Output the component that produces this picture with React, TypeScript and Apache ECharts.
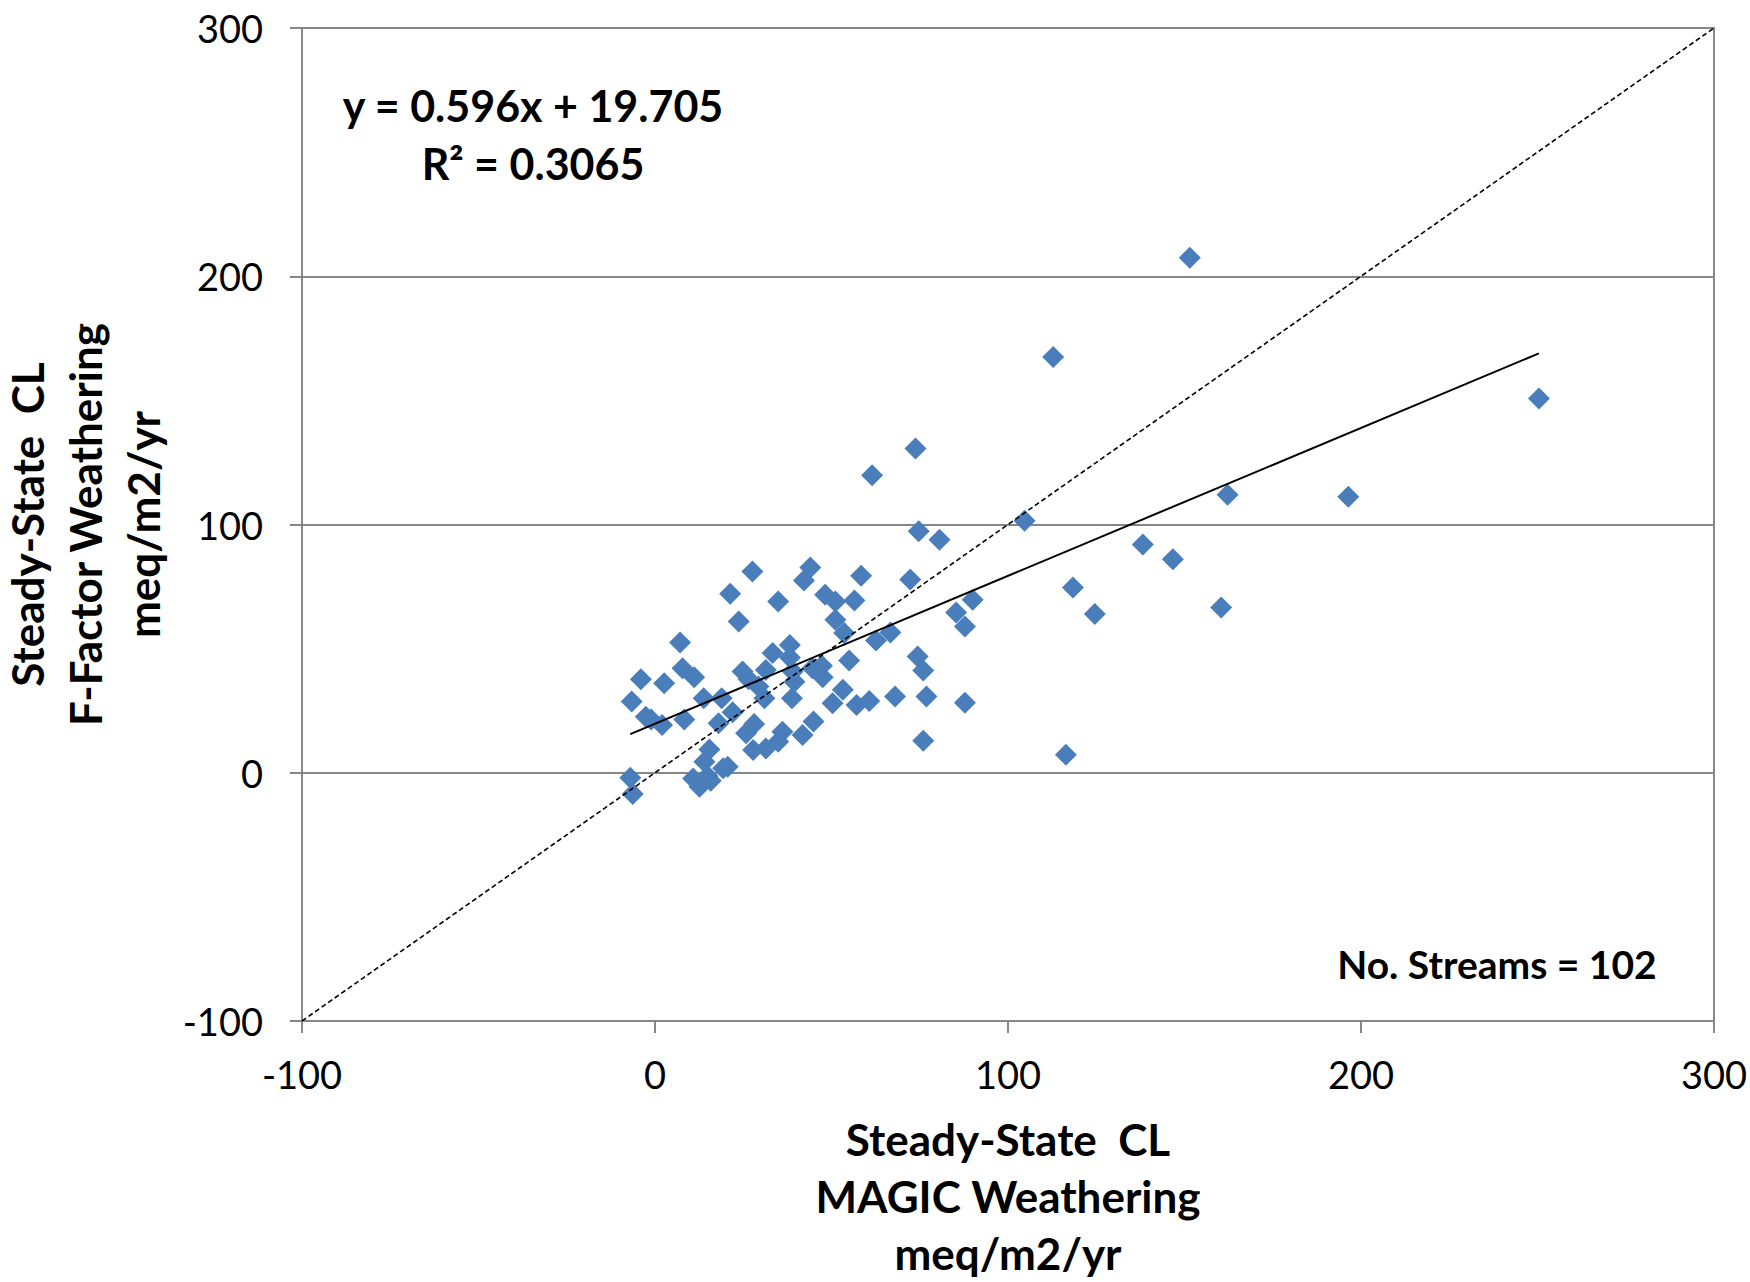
import React, { useEffect, useRef } from "react";
import * as echarts from "echarts";

// MAGIC weathering (x) vs F-Factor weathering (y), meq/m2/yr
const magicX = [
  74.7, 80.6, 27.6, 44.0, 42.2, 58.4, 72.3, 21.3, 34.9, 48.2,
  51.1, 56.5, 90.0, 85.3, 87.8, 23.7, 51.1, 53.6, 66.7, 62.6,
  7.1, 33.3, 38.2, 38.2, 74.4, 76.0, 55.0, 7.8, 11.1, -4.0,
  2.6, 24.8, 26.5, 31.4, 29.3, 31.0, 39.5, 39.0, 44.6, 47.3,
  47.5, 53.2, 38.8, 50.3, 57.1, 60.7, 68.0, 76.9, 87.8, -6.6,
  -2.6, -1.1, 2.0, 8.3, 13.8, 18.9, 22.0, 18.0, 25.8, 28.1,
  36.1, 34.9, 31.4, 27.8, 41.8, 44.9, 15.4, 14.0, 19.3, 20.6,
  10.8, 14.9, 12.6, -7.0, -6.3, 76.0, 151.5, 112.8, 73.8, 61.5,
  250.4, 162.2, 196.4, 104.7, 138.2, 146.7, 118.4, 124.6, 160.4, 116.4,
  15.8,
];
const ffactorY = [
  97.3, 93.9, 81.1, 82.7, 77.4, 79.4, 77.8, 72.1, 69.0, 71.7,
  69.0, 69.4, 69.7, 64.6, 58.9, 60.9, 61.6, 56.3, 56.5, 53.3,
  52.5, 48.2, 51.5, 46.4, 46.8, 41.2, 45.2, 42.1, 38.5, 37.7,
  36.1, 40.8, 37.7, 41.4, 34.7, 30.0, 36.7, 40.8, 42.1, 43.1,
  38.5, 33.4, 30.0, 28.0, 27.3, 28.9, 30.7, 30.7, 28.2, 28.7,
  22.6, 21.5, 19.2, 21.5, 30.0, 30.0, 24.4, 19.9, 15.9, 19.6,
  16.5, 12.5, 9.8, 9.2, 15.2, 20.6, 9.4, 4.4, 1.8, 2.4,
  -2.3, -1.3, -5.6, -2.0, -8.6, 12.9, 207.5, 167.5, 130.6, 119.8,
  150.8, 112.0, 111.2, 101.5, 91.9, 86.0, 74.6, 63.9, 66.6, 7.3,
  -3.2,
];

const axisMin = -100;
const axisMax = 300;
const axisInterval = 100;

const trendSlope = 0.596;
const trendIntercept = 19.705;
const rSquared = 0.3065;
const streamCount = 102;

const xTitleLines = ["Steady-State  CL", "MAGIC Weathering", "meq/m2/yr"];
const yTitleLines = ["Steady-State  CL", "F-Factor Weathering", "meq/m2/yr"];

export default function App() {
  const ref = useRef<HTMLDivElement | null>(null);

  useEffect(() => {
    document.body.style.margin = "0";
    if (!ref.current) return;
    const chart = echarts.init(ref.current, undefined, { renderer: "svg" });

    const points = magicX.map((x, i) => [x, ffactorY[i]]);
    const xMin = Math.min(...magicX);
    const xMax = Math.max(...magicX);
    const trend = [
      [xMin, trendSlope * xMin + trendIntercept],
      [xMax, trendSlope * xMax + trendIntercept],
    ];
    const oneToOne = [
      [axisMin, axisMin],
      [axisMax, axisMax],
    ];

    const axisColor = "#878787";
    const font = "Lato";

    chart.setOption({
      animation: false,
      backgroundColor: "#ffffff",
      grid: {
        left: 302,
        right: 36,
        top: 28,
        bottom: 261,
        containLabel: false,
        outerBoundsMode: "none",
        show: true,
        borderColor: axisColor,
        borderWidth: 2,
      },
      xAxis: {
        type: "value",
        min: axisMin,
        max: axisMax,
        interval: axisInterval,
        axisLine: { show: true, onZero: false, lineStyle: { color: axisColor, width: 2 } },
        axisTick: { show: true, inside: false, length: 12, lineStyle: { color: axisColor, width: 2 } },
        splitLine: { show: false },
        axisLabel: { color: "#000", fontFamily: font, fontSize: 38, margin: 34 },
        name: xTitleLines.join("\n"),
        nameLocation: "middle",
        nameGap: 89,
        nameTextStyle: {
          color: "#000",
          fontFamily: font,
          fontWeight: "bold",
          fontSize: 44,
          lineHeight: 57,
        },
      },
      yAxis: {
        type: "value",
        min: axisMin,
        max: axisMax,
        interval: axisInterval,
        axisLine: { show: true, onZero: false, lineStyle: { color: axisColor, width: 2 } },
        axisTick: { show: true, inside: false, length: 12, lineStyle: { color: axisColor, width: 2 } },
        splitLine: { show: true, lineStyle: { color: axisColor, width: 2 } },
        axisLabel: { color: "#000", fontFamily: font, fontSize: 38, margin: 39 },
        name: yTitleLines.join("\n"),
        nameLocation: "middle",
        nameGap: 122,
        nameTextStyle: {
          color: "#000",
          fontFamily: font,
          fontWeight: "bold",
          fontSize: 44,
          lineHeight: 58,
        },
      },
      graphic: [
        {
          type: "text",
          x: 533,
          y: 105,
          style: {
            text: `y = ${trendSlope}x + ${trendIntercept}`,
            font: `bold 43px ${font}`,
            fill: "#000",
            textAlign: "center",
            textVerticalAlign: "middle",
          },
        },
        {
          type: "text",
          x: 533,
          y: 163,
          style: {
            text: `R\u00B2 = ${rSquared}`,
            font: `bold 43px ${font}`,
            fill: "#000",
            textAlign: "center",
            textVerticalAlign: "middle",
          },
        },
        {
          type: "text",
          x: 1497,
          y: 964,
          style: {
            text: `No. Streams = ${streamCount}`,
            font: `bold 39px ${font}`,
            fill: "#000",
            textAlign: "center",
            textVerticalAlign: "middle",
          },
        },
      ],
      series: [
        {
          type: "scatter",
          data: points,
          symbol: "diamond",
          symbolSize: 22,
          itemStyle: { color: "#4a7ebb", opacity: 1 },
          z: 2,
        },
        {
          type: "line",
          data: trend,
          showSymbol: false,
          symbol: "none",
          lineStyle: { color: "#000", width: 2 },
          z: 3,
        },
        {
          type: "line",
          data: oneToOne,
          showSymbol: false,
          symbol: "none",
          lineStyle: { color: "#000", width: 1.6, type: [5, 3] },
          z: 3,
        },
      ],
    });

    return () => {
      chart.dispose();
    };
  }, []);

  return <div ref={ref} style={{ width: 1750, height: 1282 }} />;
}
